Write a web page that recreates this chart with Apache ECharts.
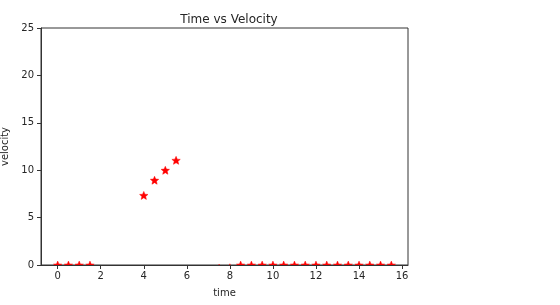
<!DOCTYPE html>
<html><head><meta charset="utf-8">
<script src="https://cdn.jsdelivr.net/npm/echarts@6/dist/echarts.min.js"></script>
<style>html,body{margin:0;padding:0;background:#fff}#c{width:560px;height:305px}</style>
</head><body><div id="c"></div>
<script>
const timeValues = [0, 0.5, 1, 1.5, 4, 4.5, 5, 5.5, 7.5, 8, 8.5, 9, 9.5, 10, 10.5, 11, 11.5, 12, 12.5, 13, 13.5, 14, 14.5, 15, 15.5];
const velocityValues = [0, 0, 0, 0, 7.35, 8.95, 10.0, 11.05, -0.32, -0.28, 0, 0, 0, 0, 0, 0, 0, 0, 0, 0, 0, 0, 0, 0, 0];
const xTicks = [0, 2, 4, 6, 8, 10, 12, 14, 16];
const yTicks = [0, 5, 10, 15, 20, 25];
const titleText = 'Time vs Velocity';
const xName = 'time';
const yName = 'velocity';

const points = timeValues.map((t, i) => [t, velocityValues[i]]);
const chart = echarts.init(document.getElementById('c'), null, {renderer: 'canvas'});
const font = 'DejaVu Sans';
const textColor = '#262626';
function starPoints(cx, cy, R) {
  const r = R * 0.45, pts = [];
  for (let k = 0; k < 10; k++) {
    const a = -Math.PI / 2 + k * Math.PI / 5;
    const rad = k % 2 === 0 ? R : r;
    pts.push([cx + rad * Math.cos(a), cy + rad * Math.sin(a)]);
  }
  return pts;
}
chart.setOption({
  animation: false,
  title: {text: titleText, left: 224, top: 9, textAlign: 'center',
    textStyle: {fontFamily: font, fontSize: 12, fontWeight: 'normal', color: textColor}},
  grid: {left: 41, top: 28, width: 367, height: 237, show: true, borderColor: '#333', borderWidth: 1,
    containLabel: false, outerBoundsMode: 'none'},
  xAxis: {type: 'value', min: -0.775, max: 16.275, name: xName, nameLocation: 'middle', nameGap: 23,
    nameTextStyle: {fontFamily: font, fontSize: 10, color: textColor},
    axisLine: {show: true, onZero: false, lineStyle: {color: '#333', width: 1}},
    axisTick: {show: true, inside: false, length: 4, lineStyle: {color: '#333'}, customValues: xTicks},
    axisLabel: {fontFamily: font, fontSize: 10, color: textColor, margin: 6, customValues: xTicks},
    splitLine: {show: false}},
  yAxis: {type: 'value', min: 0, max: 25, interval: 5, name: yName, nameLocation: 'middle', nameGap: 26,
    nameTextStyle: {fontFamily: font, fontSize: 10, color: textColor},
    axisLine: {show: true, onZero: false, lineStyle: {color: '#333', width: 1}},
    axisTick: {show: true, inside: false, length: 4, lineStyle: {color: '#333'}},
    axisLabel: {fontFamily: font, fontSize: 10, color: textColor, margin: 7},
    splitLine: {show: false}},
  series: [{
    type: 'custom', clip: true, data: points,
    renderItem: function (params, api) {
      const p = api.coord([api.value(0), api.value(1)]);
      return {type: 'polygon', shape: {points: starPoints(p[0], p[1] + 0.5, 4.4)},
        style: {fill: '#ff0000', stroke: '#ff0000', lineWidth: 0.5}};
    }
  }]
});
</script></body></html>
